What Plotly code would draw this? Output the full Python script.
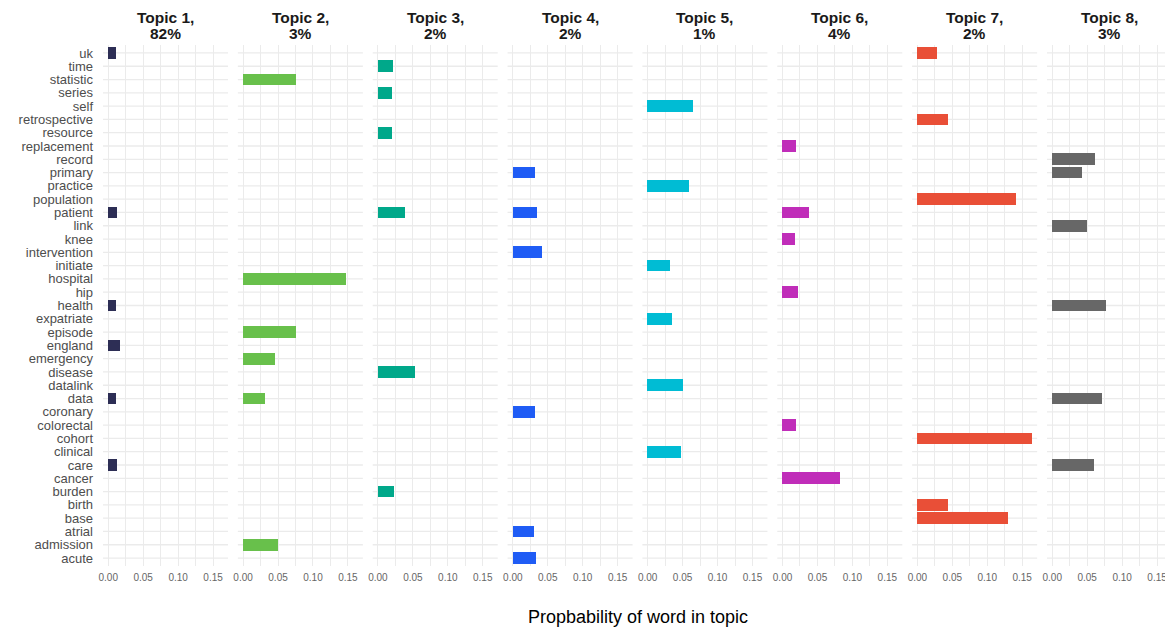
import plotly.graph_objects as go

words = ["uk", "time", "statistic", "series", "self", "retrospective", "resource",
         "replacement", "record", "primary", "practice", "population", "patient",
         "link", "knee", "intervention", "initiate", "hospital", "hip", "health",
         "expatriate", "episode", "england", "emergency", "disease", "datalink",
         "data", "coronary", "colorectal", "cohort", "clinical", "care", "cancer",
         "burden", "birth", "base", "atrial", "admission", "acute"]

topic_names = ["Topic 1,", "Topic 2,", "Topic 3,", "Topic 4,",
               "Topic 5,", "Topic 6,", "Topic 7,", "Topic 8,"]
topic_shares = ["82%", "3%", "2%", "2%", "1%", "4%", "2%", "3%"]

t1_words = ["uk", "patient", "health", "england", "data", "care"]
t1_vals = [0.011, 0.0124, 0.011, 0.0167, 0.011, 0.0124]
t2_words = ["statistic", "hospital", "episode", "emergency", "data", "admission"]
t2_vals = [0.076, 0.1467, 0.076, 0.0452, 0.031, 0.0495]
t3_words = ["time", "series", "resource", "patient", "disease", "burden"]
t3_vals = [0.0205, 0.019, 0.019, 0.0376, 0.053, 0.022]
t4_words = ["primary", "patient", "intervention", "coronary", "atrial", "acute"]
t4_vals = [0.0314, 0.034, 0.0414, 0.0314, 0.030, 0.0329]
t5_words = ["self", "practice", "initiate", "expatriate", "datalink", "clinical"]
t5_vals = [0.0657, 0.060, 0.0329, 0.0357, 0.0514, 0.0486]
t6_words = ["replacement", "patient", "knee", "hip", "colorectal", "cancer"]
t6_vals = [0.020, 0.0386, 0.0186, 0.0229, 0.020, 0.0829]
t7_words = ["uk", "retrospective", "population", "cohort", "birth", "base"]
t7_vals = [0.0286, 0.0443, 0.1414, 0.1643, 0.0443, 0.130]
t8_words = ["record", "primary", "link", "health", "data", "care"]
t8_vals = [0.0614, 0.0429, 0.050, 0.0771, 0.0714, 0.060]

topic_words = [t1_words, t2_words, t3_words, t4_words, t5_words, t6_words, t7_words, t8_words]
topic_vals = [t1_vals, t2_vals, t3_vals, t4_vals, t5_vals, t6_vals, t7_vals, t8_vals]
colors = ["#2d2e55", "#68c04b", "#00a88a", "#1f5cf5", "#00bcd4", "#c02db9", "#e94f37", "#676767"]

# page body has an 8px margin, so the figure is drawn offset by (8, 8)
W, H = 1165, 620
ml, mr, mt, mb = 95, 1, 37, 62
pw = W - ml - mr
ph = H - mt - mb
panel_w = 125
gap = (pw - 8 * panel_w) / 7
FONT = "Liberation Sans, Arial, sans-serif"

fig = go.Figure()
grid = "#ebebeb"
for i in range(8):
    x0 = i * (panel_w + gap) / pw
    x1 = x0 + panel_w / pw
    xa = "x" if i == 0 else f"x{i+1}"
    fig.add_trace(go.Bar(
        x=topic_vals[i], y=topic_words[i], orientation="h",
        marker=dict(color=colors[i], line=dict(width=0)),
        width=0.88, xaxis=xa, yaxis="y", showlegend=False,
        hovertemplate="%{y}: %{x}<extra></extra>",
    ))
    key = "xaxis" if i == 0 else f"xaxis{i+1}"
    fig.layout[key] = dict(
        domain=[x0, x1], anchor="y", range=[-0.0075, 0.1714],
        tickmode="array", tickvals=[0, 0.05, 0.10, 0.15], ticktext=["0.00", "0.05", "0.10", "0.15"],
        showgrid=True, gridcolor=grid, gridwidth=1.3,
        minor=dict(tickmode="array", tickvals=[0.025, 0.075, 0.125], showgrid=True,
                   gridcolor=grid, gridwidth=1.3),
        zeroline=False, showline=False, ticks="", automargin=False,
        tickfont=dict(family=FONT, size=10, color="#666666"),
        ticklabelstandoff=4, fixedrange=True,
    )
    fig.add_annotation(
        text="<b>" + topic_names[i] + "</b>", xref="paper", yref="paper",
        x=(x0 + x1) / 2, y=1 + 28 / ph, xanchor="center", yanchor="middle",
        showarrow=False, borderpad=0,
        font=dict(family=FONT, size=15.5, color="#1a1a1a"),
    )
    fig.add_annotation(
        text="<b>" + topic_shares[i] + "</b>", xref="paper", yref="paper",
        x=(x0 + x1) / 2, y=1 + 12 / ph, xanchor="center", yanchor="middle",
        showarrow=False, borderpad=0,
        font=dict(family=FONT, size=15.5, color="#1a1a1a"),
    )
    for w in words:
        fig.add_shape(type="line", xref="paper", yref="y", x0=x0, x1=x1, y0=w, y1=w,
                      line=dict(color=grid, width=1.3), layer="below")

fig.update_layout(
    yaxis=dict(
        domain=[0, 1], type="category", categoryorder="array", categoryarray=words,
        tickmode="array", tickvals=words, ticktext=words,
        range=[len(words) - 0.4, -0.6],
        showgrid=False, zeroline=False, ticks="", automargin=False,
        tickfont=dict(family=FONT, size=13, color="#4d4d4d"),
        ticklabelstandoff=9, fixedrange=True,
    ),
    width=W, height=H,
    margin=dict(l=ml, r=mr, t=mt, b=mb, autoexpand=False),
    paper_bgcolor="white", plot_bgcolor="white",
    bargap=0,
)

fig.add_annotation(
    text="Propbability of word in topic", xref="paper", yref="paper",
    x=0.5, y=-51 / ph,
    xanchor="center", yanchor="middle",
    showarrow=False, font=dict(family=FONT, size=18, color="#000000"),
)

fig.write_html("out.html")
